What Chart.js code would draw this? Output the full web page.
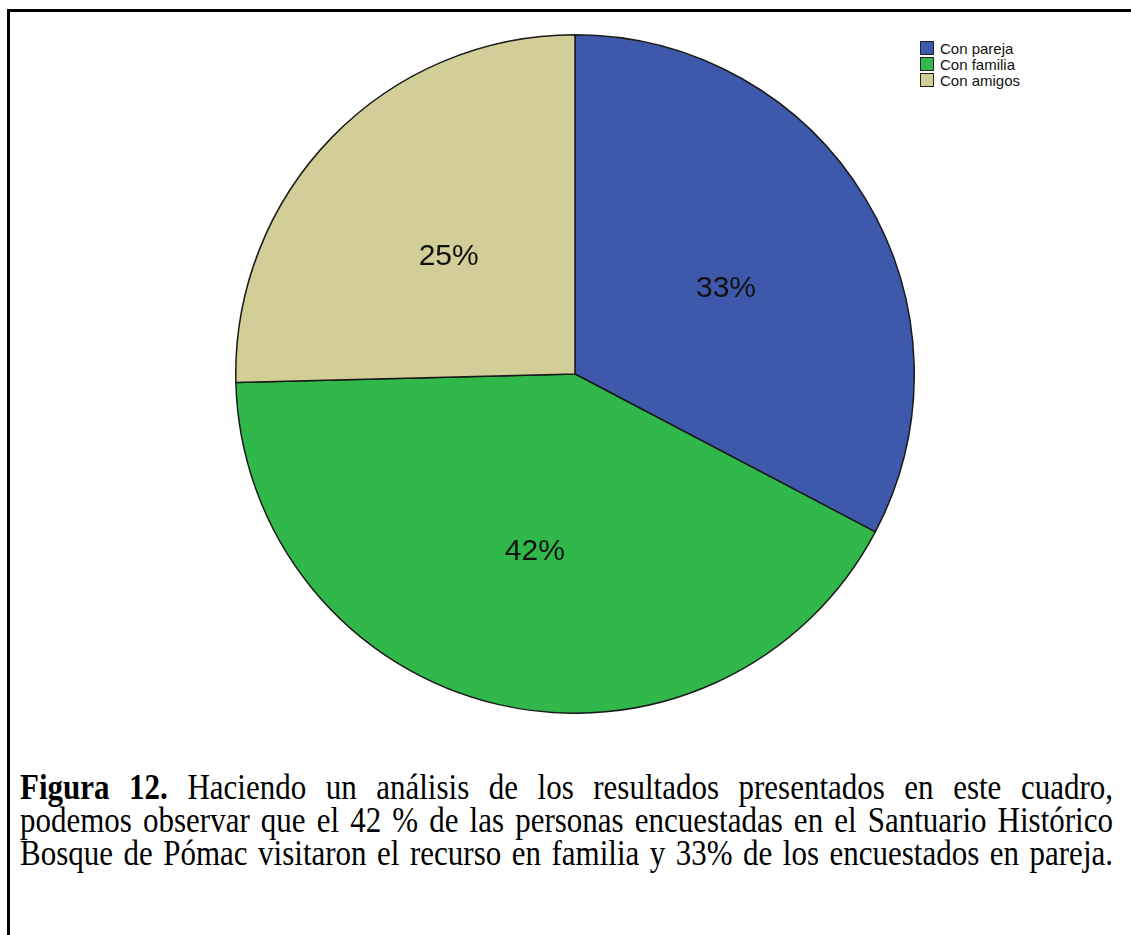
<!DOCTYPE html>
<html>
<head>
<meta charset="utf-8">
<script src="https://cdn.jsdelivr.net/npm/chart.js@4/dist/chart.umd.min.js"></script>
<style>
  html, body { margin: 0; padding: 0; background: #fff; width: 1131px; height: 935px; overflow: hidden; }
  #frame { position: absolute; left: 7px; top: 9px; width: 1200px; height: 1000px; border-top: 3px solid #000; border-left: 3px solid #000; box-sizing: border-box; }
  #chartBox { position: absolute; left: 235px; top: 34px; width: 680px; height: 680px; }
  #legend { position: absolute; left: 920px; top: 40px; font-family: "Liberation Sans", Arial, sans-serif; font-size: 15px; color: #111; }
  .li { height: 16px; display: flex; align-items: center; white-space: nowrap; }
  .sw { width: 12px; height: 12px; border: 1px solid #222; margin-right: 6px; box-sizing: content-box; }
  #caption { position: absolute; left: 20px; top: 771px; width: 1093px; font-family: "Liberation Serif", "Times New Roman", serif; font-size: 31px; line-height: 29.2px; color: #000; transform: scaleY(1.13); transform-origin: 0 0; }
  #caption div { text-align: justify; text-align-last: justify; white-space: nowrap; }
</style>
</head>
<body>
<div id="frame"></div>
<div id="chartBox"><canvas id="c"></canvas></div>
<div id="legend"></div>
<div id="caption">
  <div><b>Figura 12.</b> Haciendo un análisis de los resultados presentados en este cuadro,</div>
  <div>podemos observar que el 42 % de las personas encuestadas en el Santuario Histórico</div>
  <div>Bosque de Pómac visitaron el recurso en familia y 33% de los encuestados en pareja.</div>
</div>
<script>
const categories = ["Con pareja", "Con familia", "Con amigos"];
const values = [32.7, 41.9, 25.4];
const pctLabels = ["33%", "42%", "25%"];
const colors = ["#3e58ac", "#30b84a", "#d3ce97"];

// fit caption lines into the available width
(function fitCaption() {
  const cap = document.getElementById('caption');
  const lines = Array.from(cap.children);
  let size = 31;
  const fits = () => lines.every(l => {
    const span = document.createElement('span');
    span.innerHTML = l.innerHTML;
    span.style.whiteSpace = 'nowrap';
    span.style.font = getComputedStyle(cap).font;
    span.style.position = 'absolute';
    span.style.visibility = 'hidden';
    document.body.appendChild(span);
    const w = span.getBoundingClientRect().width;
    span.remove();
    return w <= 1080;
  });
  while (size > 20 && !fits()) { size -= 0.5; cap.style.fontSize = size + 'px'; }
})();

// legend
const lg = document.getElementById('legend');
categories.forEach((c, i) => {
  const row = document.createElement('div');
  row.className = 'li';
  const sw = document.createElement('span');
  sw.className = 'sw';
  sw.style.background = colors[i];
  row.appendChild(sw);
  row.appendChild(document.createTextNode(c));
  lg.appendChild(row);
});

const labelPlugin = {
  id: 'sliceLabels',
  afterDatasetsDraw(chart) {
    const ctx = chart.ctx;
    const meta = chart.getDatasetMeta(0);
    ctx.save();
    ctx.font = '30px "Liberation Sans", Arial, sans-serif';
    ctx.fillStyle = '#111';
    ctx.textAlign = 'center';
    ctx.textBaseline = 'middle';
    meta.data.forEach((arc, i) => {
      const p = arc.getProps(['x', 'y', 'startAngle', 'endAngle', 'outerRadius'], true);
      const mid = (p.startAngle + p.endAngle) / 2;
      const r = p.outerRadius * 0.52;
      ctx.fillText(pctLabels[i], p.x + Math.cos(mid) * r, p.y + Math.sin(mid) * r + 6);
    });
    ctx.restore();
  }
};

new Chart(document.getElementById('c'), {
  type: 'pie',
  data: {
    labels: categories,
    datasets: [{
      data: values,
      backgroundColor: colors,
      borderColor: '#1a1a1a',
      borderWidth: 1.5,
      borderAlign: 'center'
    }]
  },
  options: {
    responsive: true,
    maintainAspectRatio: false,
    animation: false,
    layout: { padding: 0 },
    plugins: { legend: { display: false }, tooltip: { enabled: false } }
  },
  plugins: [labelPlugin]
});
</script>
</body>
</html>
